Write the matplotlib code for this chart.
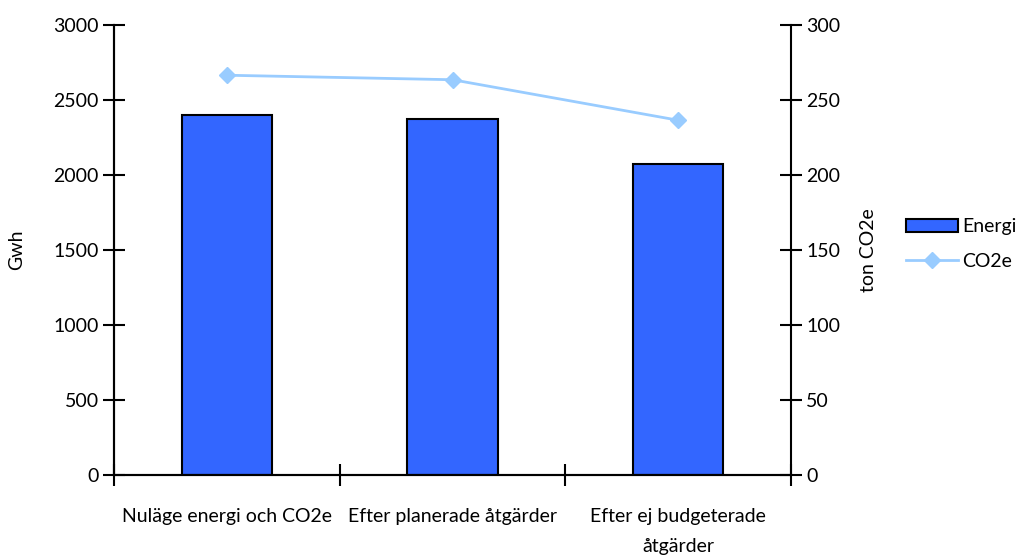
import numpy as np
import matplotlib.pyplot as plt
from matplotlib.ticker import FixedLocator, NullFormatter, FixedFormatter

plt.rcParams['font.family'] = ['Lato', 'DejaVu Sans']

categories = ["Nuläge energi och CO2e", "Efter planerade åtgärder",
              "Efter ej budgeterade\nåtgärder"]
energi_gwh = [2400, 2375, 2070]
co2e_ton = [266.5, 263.5, 236.5]

FS = 14

fig = plt.figure(figsize=(10.21, 5.55), dpi=100)
ax = fig.add_axes([0.1117, 0.1441, 0.6630, 0.8109])
x = np.arange(len(categories))

bars = ax.bar(x, energi_gwh, width=0.4, color="#3366FF", edgecolor="black",
              linewidth=1.5, label="Energi", zorder=2)
ax.set_xlim(-0.5, len(categories) - 0.5)
ax.set_ylim(0, 3000)
ax.set_yticks(np.arange(0, 3001, 500))
ax.set_ylabel("Gwh", fontsize=FS, labelpad=20)

ax.xaxis.set_major_locator(FixedLocator(np.arange(-0.5, len(categories), 1.0)))
ax.xaxis.set_major_formatter(NullFormatter())
ax.xaxis.set_minor_locator(FixedLocator(x))
ax.xaxis.set_minor_formatter(FixedFormatter(categories))
ax.tick_params(axis="x", which="minor", length=0, labelsize=FS, pad=24)
for lbl in ax.xaxis.get_minorticklabels():
    lbl.set_linespacing(1.9)
ax.tick_params(axis="x", which="major", direction="inout", length=16, width=1.5)
ax.tick_params(axis="y", direction="inout", length=16, width=1.5, labelsize=FS, pad=3)

ax2 = ax.twinx()
line, = ax2.plot(x, co2e_ton, color="#99CCFF", linewidth=2, marker="D",
                 markersize=8, label="CO2e", zorder=3)
ax2.set_ylim(0, 300)
ax2.set_yticks(np.arange(0, 301, 50))
ax2.set_ylabel("ton CO2e", fontsize=FS, labelpad=14)
ax2.tick_params(axis="y", direction="inout", length=16, width=1.5, labelsize=FS, pad=3)

for a in (ax, ax2):
    a.spines["top"].set_visible(False)
    for s in ("left", "right", "bottom"):
        a.spines[s].set_linewidth(1.5)
ax.spines["right"].set_visible(False)

fig.legend(handles=[bars, line], labels=["Energi", "CO2e"], loc="center left",
           bbox_to_anchor=(0.870, 0.56), frameon=False, fontsize=FS,
           handlelength=2.7, handletextpad=0.2, labelspacing=0.9)

fig.savefig("out.png", dpi=100)
